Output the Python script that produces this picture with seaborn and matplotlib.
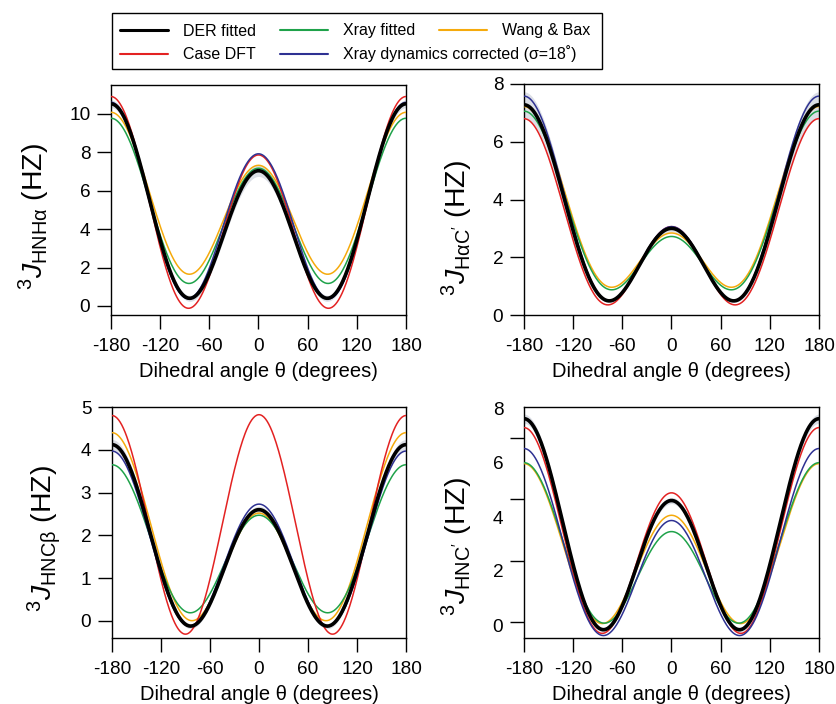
import numpy as np
import pandas as pd
import matplotlib
matplotlib.use("Agg")
import matplotlib.pyplot as plt
import seaborn as sns
from matplotlib.lines import Line2D
from matplotlib.patches import Rectangle

# ---------------- data ----------------
models = ["DER fitted", "Case DFT", "Xray fitted",
          "Xray dynamics corrected (\u03c3=18\u02da)", "Wang & Bax"]
palette = ["#000000", "#e32222", "#1fa24a", "#2e3192", "#f5aa0c"]

# Karplus coefficients: J = A cos^2(t) + B cos(t) + C
# order of entries follows `models`
hnha_A = [8.29, 9.44, 7.24, 8.83, 6.98]
hnha_B = [-1.74, -1.52, -1.30, -1.34, -1.38]
hnha_C = [0.49, -0.06, 1.23, 0.43, 1.72]

hac_A = [4.39, 4.38, 3.70, 4.55, 3.75]
hac_B = [-2.14, -1.87, -2.17, -2.26, -2.19]
hac_C = [0.75, 0.55, 1.19, 0.77, 1.28]

hncb_A = [3.44, 5.12, 2.84, 3.44, 3.39]
hncb_B = [-0.76, 0.01, -0.59, -0.62, -0.94]
hncb_C = [-0.08, -0.31, 0.22, -0.09, 0.07]

hnc_A = [5.45, 5.58, 4.02, 4.84, 4.32]
hnc_B = [-1.33, -1.06, -1.12, -1.17, -0.84]
hnc_C = [-0.16, -0.31, 0.05, -0.36, 0.00]

# half-width of the grey DER uncertainty band (same Karplus form)
band_hnha = [0.10, 0.05, 0.15]
band_hac = [0.20, -0.17, 0.08]
band_hncb = [0.04, -0.02, 0.06]
band_hnc = [0.045, -0.025, 0.08]

xticks = [-180, -120, -60, 0, 60, 120, 180]
ylabels = ["$^{3}J_{\\mathrm{HNH\u03b1}}$ (HZ)",
           "$^{3}J_{\\mathrm{H\u03b1C'}}$ (HZ)",
           "$^{3}J_{\\mathrm{HNC\u03b2}}$ (HZ)",
           "$^{3}J_{\\mathrm{HNC'}}$ (HZ)"]
xlabel = "Dihedral angle \u03b8 (degrees)"

# ---------------- style ----------------
sns.set_theme(style="ticks")
plt.rcParams.update({
    "font.family": ["Liberation Sans", "DejaVu Sans"],
    "mathtext.fontset": "custom",
    "mathtext.rm": "Liberation Sans",
    "mathtext.it": "Liberation Sans:italic",
    "mathtext.bf": "Liberation Sans:bold",
    "axes.unicode_minus": False,
    "axes.edgecolor": "black",
    "axes.linewidth": 1.0,
    "xtick.color": "black",
    "ytick.color": "black",
    "text.color": "black",
    "axes.labelcolor": "black",
})

theta = np.arange(-180, 181, 1.0)
c = np.cos(np.deg2rad(theta))

panels = [
    (hnha_A, hnha_B, hnha_C, band_hnha, (-0.47, 11.5), [0, 2, 4, 6, 8, 10]),
    (hac_A, hac_B, hac_C, band_hac, (0, 8), [0, 2, 4, 6, 8]),
    (hncb_A, hncb_B, hncb_C, band_hncb, (-0.40, 5.0), [0, 1, 2, 3, 4, 5]),
    (hnc_A, hnc_B, hnc_C, band_hnc, (-0.51, 7.0), [0, 2, 4, 6]),
]

W, H = 837, 704
fig = plt.figure(figsize=(W / 100, H / 100), dpi=100)
boxes = [(111, 85, 406, 315), (524, 84, 819, 315),
         (112, 407, 406, 638), (524, 407, 819, 638)]
ylab_pos = [(-0.20, 0.43), (-0.165, 0.375), (-0.165, 0.43), (-0.165, 0.395)]
xlab_y = [-0.205, -0.205, -0.205, -0.205]

draw_order = [4, 2, 1, 3, 0]
lws = {0: 2.6, 1: 1.1, 2: 1.1, 3: 1.1, 4: 1.1}

for k, (A, B, C, band, ylim, yt) in enumerate(panels):
    l, t, r, b = boxes[k]
    ax = fig.add_axes([l / W, 1 - b / H, (r - l) / W, (b - t) / H])
    rows = []
    for i, m in enumerate(models):
        J = A[i] * c ** 2 + B[i] * c + C[i]
        rows.append(pd.DataFrame({"theta": theta, "J": J, "model": m}))
    df = pd.concat(rows, ignore_index=True)
    der = df[df.model == models[0]]["J"].to_numpy()
    hw = np.abs(band[0] * c ** 2 + band[1] * c + band[2])
    ax.fill_between(theta, der - hw, der + hw, color="#dcdfe6", lw=0, zorder=1)
    for i in draw_order:
        sub = df[df.model == models[i]]
        sns.lineplot(data=sub, x="theta", y="J", ax=ax, color=palette[i],
                     lw=lws[i], zorder=3 + (i == 0), legend=False)
    ax.set_xlim(-180, 180)
    ax.set_ylim(*ylim)
    ax.set_xticks(xticks)
    ax.set_xticklabels([str(v) for v in xticks])
    ax.tick_params(axis="both", direction="out", length=10.4, width=1.0,
                   labelsize=13.7)
    ax.tick_params(axis="x", pad=6.0)
    ax.tick_params(axis="y", pad=4.5)
    if k == 3:
        # reference draws tick marks at 0,2,4,6 but labels 0..8 spread wider
        ax.set_yticks(yt)
        ax.set_yticklabels([])
        ax.set_yticks([-0.09, 1.68, 3.42, 5.21, 6.95], minor=True)
        ax.set_yticklabels(["0", "2", "4", "6", "8"], minor=True)
        ax.tick_params(axis="y", which="minor", length=0, pad=4.5 + 10.4,
                       labelsize=13.7)
    else:
        ax.set_yticks(yt)
        ax.set_yticklabels([str(v) for v in yt])
    for s in ax.spines.values():
        s.set_linewidth(1.0)
        s.set_color("black")
    ax.set_xlabel(xlabel, fontsize=14.5)
    ax.set_ylabel(ylabels[k], fontsize=20.5)
    ax.yaxis.set_label_coords(*ylab_pos[k])
    ax.xaxis.set_label_coords(0.5, xlab_y[k])
    ax.xaxis.label.set_va("top")

# ---------------- legend ----------------
def handle(i):
    return Line2D([0], [0], color=palette[i], lw=2.2 if i == 0 else 1.5,
                  label=models[i])

common = dict(loc="center left", frameon=False, fontsize=11.5,
              handlelength=3.0, handletextpad=0.95, columnspacing=1.5,
              borderpad=0, borderaxespad=0)
fig.legend(handles=[handle(0), handle(2), handle(4)], ncol=3,
           bbox_to_anchor=(120 / W, 1 - 31 / H), **common)
fig.legend(handles=[handle(1), handle(3)], ncol=2,
           bbox_to_anchor=(120 / W, 1 - 54 / H), **common)
fig.add_artist(Rectangle((112 / W, 1 - 69 / H), 490 / W, 56 / H,
                         transform=fig.transFigure, fill=False,
                         lw=1.0, ec="black"))

fig.savefig("out.png", dpi=100)
